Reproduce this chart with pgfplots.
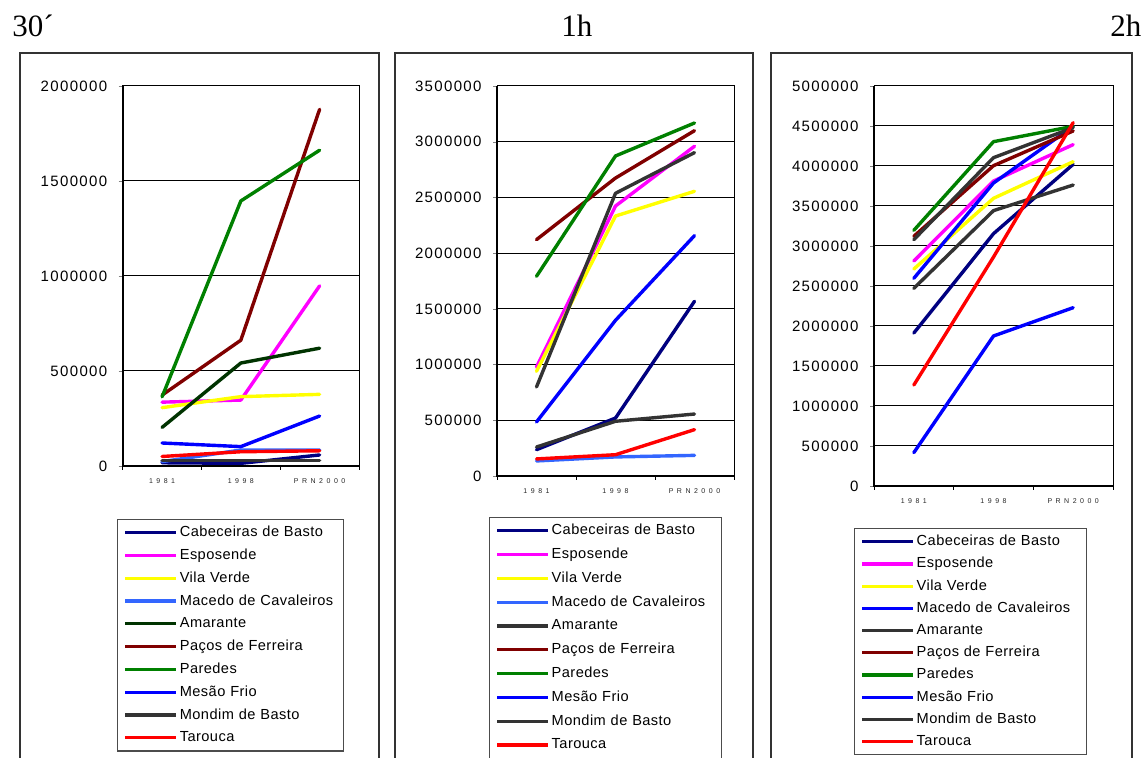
\documentclass[border=0pt]{standalone}
\usepackage{fontspec}
\setmainfont{Liberation Sans}
\usepackage{pgfplots}
\pgfplotsset{compat=1.18}
\newfontfamily\titlefont{Liberation Serif}
\newfontfamily\ytfamily{Liberation Sans}[LetterSpace=9]
\newfontfamily\xtfamily{Liberation Sans}[LetterSpace=50]
\newfontfamily\legfamily{Liberation Sans}[LetterSpace=3]
\newcommand\ytfont{\ytfamily\fontsize{7.5pt}{9pt}\selectfont}
\newcommand\xtfont{\xtfamily\fontsize{3.5pt}{4pt}\selectfont}
\newcommand\legfont{\legfamily\fontsize{7.3pt}{9pt}\selectfont}

\definecolor{cnavy}{RGB}{0,0,128}
\definecolor{cmag}{RGB}{255,0,255}
\definecolor{cyel}{RGB}{255,255,0}
\definecolor{clblue}{RGB}{51,102,255}
\definecolor{cdgreen}{RGB}{0,51,0}
\definecolor{cmaroon}{RGB}{128,0,0}
\definecolor{cgreen}{RGB}{0,128,0}
\definecolor{cblue}{RGB}{0,0,255}
\definecolor{cgray}{RGB}{51,51,51}
\definecolor{cred}{RGB}{255,0,0}

\pgfplotsset{
  panel/.style={
    scale only axis, anchor=south west, clip=false,
    xmin=-0.5, xmax=2.5,
    xtick={0,1,2}, xticklabels={1981,1998,PRN2000},
    minor xtick={-0.5,0.5,1.5,2.5},
    major x tick style={draw=none},
    minor x tick style={black, line width=0.5pt},
    tick align=outside, tick pos=left,
    major tick length=2pt, minor tick length=2pt,
    ymin=0, ymajorgrids, scaled y ticks=false,
    major grid style={black, line width=0.5pt},
    axis line style={black, line width=0.5pt},
    yticklabel style={font=\ytfont, xshift=-2.2pt},
    xticklabel style={font=\xtfont, text=black!85, yshift=-0.8pt},
    legend cell align=left,
    legend image code/.code={\draw[##1, line width=1.6pt, line cap=butt] (0pt,0pt) -- (25.5pt,0pt);},
    legend style={anchor=north west, draw=black!70, line width=0.6pt,
      font=\legfont, row sep=4.2pt, inner sep=3pt,
      nodes={inner xsep=1pt, inner ysep=0pt, text height=5.6pt, text depth=1.6pt}},
    every axis plot/.append style={line width=1.7pt, line join=round, line cap=round},
  },
}

\begin{document}
\begin{tikzpicture}
\useasboundingbox (0,0) rectangle (573pt,379pt);
\clip (0,0) rectangle (573pt,379pt);

% titles
\node[anchor=base west, inner sep=0pt, font=\titlefont\fontsize{15.5pt}{18pt}\selectfont] at (6pt,360.5pt) {30´};
\node[anchor=base west, inner sep=0pt, font=\titlefont\fontsize{15.5pt}{18pt}\selectfont] at (280.5pt,360.5pt) {1h};
\node[anchor=base west, inner sep=0pt, font=\titlefont\fontsize{15.5pt}{18pt}\selectfont] at (555pt,360.5pt) {2h};

% panel frames
\draw[black!80, line width=0.75pt] (10pt,-5pt) -- (10pt,352.5pt) -- (189.5pt,352.5pt) -- (189.5pt,-5pt);
\draw[black!80, line width=0.75pt] (197.5pt,-5pt) -- (197.5pt,352.5pt) -- (376.5pt,352.5pt) -- (376.5pt,-5pt);
\draw[black!80, line width=0.75pt] (385.5pt,-5pt) -- (385.5pt,352.5pt) -- (566pt,352.5pt) -- (566pt,-5pt);

% ---- 30 minutes ----
\begin{axis}[panel, at={(61.35pt,146pt)}, width=118.15pt, height=190pt,
  ymax=2000000, ytick={0,500000,1000000,1500000,2000000},
  yticklabels={0,500000,1000000,1500000,2000000},
  legend style={at={(-0.024,-0.139)}, nodes={text width=78pt}}]
\addplot[cnavy]   coordinates {(0,17000) (1,14000) (2,58000)};
\addplot[cmag]    coordinates {(0,336000) (1,347000) (2,948000)};
\addplot[cyel]    coordinates {(0,307000) (1,365000) (2,377000)};
\addplot[clblue]  coordinates {(0,23000) (1,84000) (2,84000)};
\addplot[cdgreen] coordinates {(0,203000) (1,542000) (2,620000)};
\addplot[cmaroon] coordinates {(0,373000) (1,662000) (2,1877000)};
\addplot[cgreen]  coordinates {(0,364000) (1,1395000) (2,1662000)};
\addplot[cblue]   coordinates {(0,121000) (1,102000) (2,263000)};
\addplot[cgray]   coordinates {(0,30000) (1,30000) (2,30000)};
\addplot[cred]    coordinates {(0,50000) (1,75000) (2,80000)};
\legend{Cabeceiras de Basto,Esposende,Vila Verde,Macedo de Cavaleiros,Amarante,Paços de Ferreira,Paredes,Mesão Frio,Mondim de Basto,Tarouca}
\draw[black, line width=1pt] (rel axis cs:0,1) -- (rel axis cs:0,0) -- (rel axis cs:1,0);
\end{axis}

% ---- 1 hour ----
\begin{axis}[panel, at={(248.5pt,141pt)}, width=118.5pt, height=195pt,
  ymax=3500000, ytick={0,500000,1000000,1500000,2000000,2500000,3000000,3500000},
  yticklabels={0,500000,1000000,1500000,2000000,2500000,3000000,3500000},
  legend style={at={(-0.034,-0.105)}, row sep=4.7pt, nodes={text width=81pt}}]
\addplot[cnavy]   coordinates {(0,236000) (1,520000) (2,1568000)};
\addplot[cmag]    coordinates {(0,978000) (1,2423000) (2,2959000)};
\addplot[cyel]    coordinates {(0,939000) (1,2333000) (2,2555000)};
\addplot[clblue]  coordinates {(0,135000) (1,171000) (2,185000)};
\addplot[cgray]   coordinates {(0,260000) (1,491000) (2,556000)};
\addplot[cmaroon] coordinates {(0,2121000) (1,2674000) (2,3099000)};
\addplot[cgreen]  coordinates {(0,1792000) (1,2872000) (2,3168000)};
\addplot[cblue]   coordinates {(0,485000) (1,1397000) (2,2157000)};
\addplot[cgray]   coordinates {(0,799000) (1,2537000) (2,2902000)};
\addplot[cred]    coordinates {(0,153000) (1,191000) (2,416000)};
\legend{Cabeceiras de Basto,Esposende,Vila Verde,Macedo de Cavaleiros,Amarante,Paços de Ferreira,Paredes,Mesão Frio,Mondim de Basto,Tarouca}
\draw[black, line width=1pt] (rel axis cs:0,1) -- (rel axis cs:0,0) -- (rel axis cs:1,0);
\end{axis}

% ---- 2 hours ----
\begin{axis}[panel, at={(437pt,136pt)}, width=119.5pt, height=200pt,
  ymax=5000000, ytick={0,500000,1000000,1500000,2000000,2500000,3000000,3500000,4000000,4500000,5000000},
  yticklabels={0,500000,1000000,1500000,2000000,2500000,3000000,3500000,4000000,4500000,5000000},
  legend style={at={(-0.084,-0.105)}, row sep=3.9pt, nodes={text width=81pt}}]
\addplot[cnavy]   coordinates {(0,1912000) (1,3154000) (2,4021000)};
\addplot[cmag]    coordinates {(0,2812000) (1,3812000) (2,4267000)};
\addplot[cyel]    coordinates {(0,2712000) (1,3596000) (2,4054000)};
\addplot[cblue]   coordinates {(0,2596000) (1,3787000) (2,4496000)};
\addplot[cgray]   coordinates {(0,2471000) (1,3442000) (2,3762000)};
\addplot[cmaroon] coordinates {(0,3121000) (1,4004000) (2,4438000)};
\addplot[cgreen]  coordinates {(0,3196000) (1,4304000) (2,4496000)};
\addplot[cblue]   coordinates {(0,417000) (1,1875000) (2,2229000)};
\addplot[cgray]   coordinates {(0,3079000) (1,4104000) (2,4479000)};
\addplot[cred]    coordinates {(0,1262000) (1,2862000) (2,4542000)};
\legend{Cabeceiras de Basto,Esposende,Vila Verde,Macedo de Cavaleiros,Amarante,Paços de Ferreira,Paredes,Mesão Frio,Mondim de Basto,Tarouca}
\draw[black, line width=1pt] (rel axis cs:0,1) -- (rel axis cs:0,0) -- (rel axis cs:1,0);
\end{axis}
\end{tikzpicture}
\end{document}
